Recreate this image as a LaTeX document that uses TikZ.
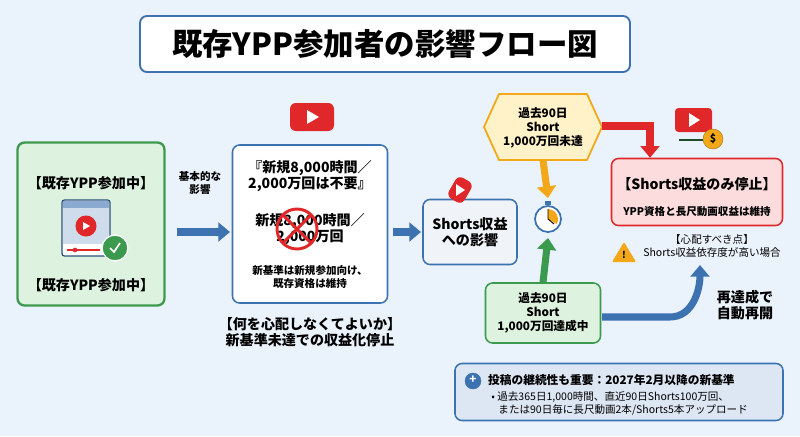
\documentclass[tikz,border=0pt]{standalone}
\usepackage{fontspec}
\setmainfont{Noto Sans CJK JP}
\usetikzlibrary{positioning,arrows.meta,shapes.geometric}
\definecolor{bgc}{HTML}{EAF2FB}
\definecolor{bluel}{HTML}{3C72B0}
\definecolor{greenl}{HTML}{3C9A4E}
\definecolor{greenf}{HTML}{DDF2DF}
\definecolor{redl}{HTML}{E0282A}
\definecolor{redf}{HTML}{FCDCDC}
\definecolor{orl}{HTML}{F2A818}
\definecolor{yelf}{HTML}{FFF2C8}
\definecolor{grayf}{HTML}{F0F3F7}
\definecolor{infof}{HTML}{DDE7F4}
\tikzset{
  box/.style={draw=bluel, line width=1.3pt, rounded corners=6pt, fill=white, align=center},
  blk/.style={line width=6pt, -{Triangle[length=10pt,width=16pt]}},
  txt/.style={align=center, font=\large\bfseries},
}
\begin{document}
\begin{tikzpicture}[x=0.03cm, y=-0.03cm]
      % background
      \fill[bgc] (0,0) rectangle (800,436);
      \useasboundingbox (0,0) rectangle (800,436);
      % title
      \node[box, minimum width=490*0.03cm, minimum height=56*0.03cm, line width=1.6pt,
            font=\fontsize{26}{28}\selectfont\bfseries] (title) at (385,44) {既存YPP参加者の影響フロー図};

      % existing member box
      \node[box, draw=greenl, fill=greenf, line width=2pt, minimum width=147*0.03cm,
            minimum height=163*0.03cm] (member) at (91,224) {};
      \node[txt] (mtop) at (91,183) {【既存YPP参加中】};
      \node[txt] (mbot) at (91,285) {【既存YPP参加中】};
      % browser icon
      \filldraw[fill=white, draw=bluel!70!black, rounded corners=2pt, line width=1pt] (62,200) rectangle (110,256);
      \fill[bluel!60] (63,201) rectangle (109,208);
      \fill[bluel!25] (63,208) rectangle (109,244);
      \fill[redl] (86,226) circle (9pt);
      \fill[white] (83,222) -- (90,226) -- (83,230) -- cycle;
      \draw[redl, line width=1pt] (67,250) -- (100,250);
      \fill[redl] (75,250) circle (2pt);
      \filldraw[fill=greenl, draw=white, line width=1pt] (115,248) circle (11pt);
      \draw[white, line width=1.5pt] (110,248) -- (114,252) -- (120,243);

      % basic impact arrow
      \node[font=\small\bfseries, align=center] (basic) at (200,183) {基本的な\\影響};
      \coordinate (a1s) at (177,232);
      \coordinate (a1e) at (230,232);
      \draw[blk, bluel] (a1s) -- (a1e);

      % not required box
      \node[box, minimum width=155*0.03cm, minimum height=158*0.03cm] (notreq) at (310,224) {};
      \node[txt] (nt1) at (310,176) {『新規8,000時間／\\2,000万回は不要』};
      \node[txt] (nt2) at (310,229) {新規8,000時間／\\2,000万回};
      \node[font=\small\bfseries, align=center] (nt3) at (310,277) {新基準は新規参加向け、\\既存資格は維持};
      \draw[redl, line width=2.5pt] (297,229) circle (20);
      \draw[redl, line width=2.5pt] (283,215) -- (311,243) (311,215) -- (283,243);
      % youtube logo
      \fill[redl, rounded corners=5pt] (290,103) rectangle (334,131);
      \fill[white] (307,110) -- (319,117) -- (307,124) -- cycle;
      \node[txt] (worry) at (310,332) {【何を心配しなくてよいか】\\新基準未達での収益化停止};

      \coordinate (a2s) at (393,232);
      \coordinate (a2e) at (421,232);
      \draw[blk, bluel] (a2s) -- (a2e);

      % shorts impact
      \node[box, fill=grayf, minimum width=94*0.03cm, minimum height=65*0.03cm,
            font=\large\bfseries] (shorts) at (470,232) {Shorts収益\\への影響};
      \fill[redl, rounded corners=5pt, rotate around={-30:(460,190)}] (451,178) rectangle (469,202);
      \fill[white] (456,184) -- (465,190) -- (456,196) -- cycle;

      % hexagon
      \filldraw[fill=yelf, draw=orl, line width=1.5pt, line join=round]
            (484,127) -- (499,94) -- (587,94) -- (602,127) -- (587,160) -- (499,160) -- cycle;
      \node[txt, font=\normalsize\bfseries] (hex) at (543,128) {過去90日\\Short\\1,000万回未達};
      \coordinate (hexb) at (543,160);
      % stopwatch
      \filldraw[fill=white, draw=bluel, line width=1.5pt] (548,219) circle (13);
      \fill[bluel] (545,201) rectangle (551,205);
      \fill[orl] (548,219) -- (548,209) arc (90:-30:10*0.03cm) -- cycle;
      \draw[black, line width=0.8pt] (548,219) -- (548,209) (548,219) -- (554,224);
      \coordinate (swt) at (548,198);
      \coordinate (swb) at (548,238);

      % reached box
      \node[box, draw=greenl, fill=greenf, minimum width=115*0.03cm, minimum height=60*0.03cm,
            font=\normalsize\bfseries] (reach) at (543,313) {過去90日\\Short\\1,000万回達成中};
      \draw[blk, orl] (hexb) -- (swt);
      \draw[blk, greenl] (reach.north) -- (swb);

      % stop box
      \node[box, draw=redl, fill=redf, minimum width=171*0.03cm, minimum height=67*0.03cm] (stop) at (697,192) {};
      \node[font=\large\bfseries] (stopt) at (697,184) {【Shorts収益のみ停止】};
      \node[font=\small\bfseries] (stops) at (697,212) {YPP資格と長尺動画収益は維持};
      \draw[blk, redl] (602,126) -- (650,126) -- (stop.north -| 650,0);
      % video dollar icon
      \fill[redl, rounded corners=3pt] (675,108) rectangle (712,132);
      \fill[white] (689,113) -- (700,120) -- (689,127) -- cycle;
      \draw[greenl!50!black, line width=1pt] (679,140) -- (703,140);
      \filldraw[fill=orl, draw=orl!70!black] (713,139) circle (10);
      \node[font=\small\bfseries] (dollar) at (713,139) {\$};

      % warning
      \fill[orl, rounded corners=1pt] (612,262) -- (624,242) -- (636,262) -- cycle;
      \node[font=\footnotesize\bfseries] (warnx) at (624,255) {!};
      \node[font=\small, align=center] (warn) at (712,246) {【心配すべき点】\\Shorts収益依存度が高い場合};

      % resume arrow
      \coordinate (rs) at (602,317);
      \coordinate (re) at (700,265);
      \draw[blk, bluel] (rs) -- (670,317) to[out=0, in=-90] (re);
      \node[txt] (resume) at (745,305) {再達成で\\自動再開};

      % info box
      \node[box, fill=infof, minimum width=328*0.03cm, minimum height=57*0.03cm] (info) at (619,392) {};
      \filldraw[fill=bluel, draw=bluel] (473,381) circle (8);
      \node[font=\bfseries\color{white}] (plus) at (473,380) {+};
      \node[font=\normalsize\bfseries, anchor=west] (infot) at (484,380) {投稿の継続性も重要：2027年2月以降の新基準};
      \node[font=\small, anchor=north west, align=left, inner sep=1pt] (infob) at (490,390)
            {•\ 過去365日1,000時間、直近90日Shorts100万回、\\\ \ \ または90日毎に長尺動画2本/Shorts5本アップロード};
\end{tikzpicture}
\end{document}
